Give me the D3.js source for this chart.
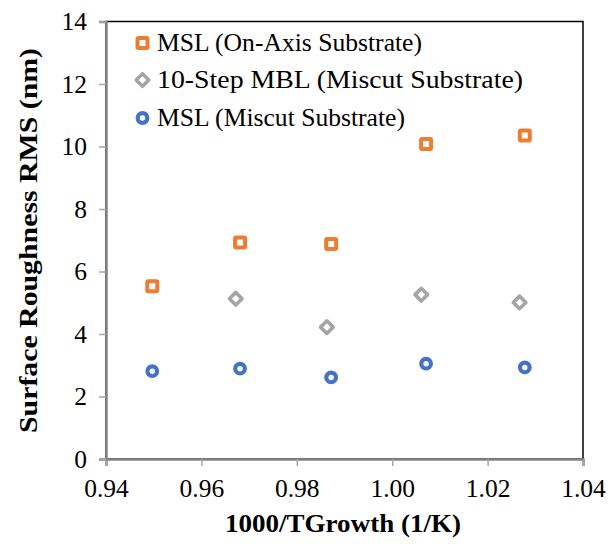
<!DOCTYPE html>
<html><head><meta charset="utf-8">
<script src="https://cdn.jsdelivr.net/npm/d3@7"></script>
<style>body{margin:0;background:#fff}svg{display:block}text{font-family:"Liberation Serif","Times New Roman",serif}</style>
</head><body>
<svg id="c" width="608" height="545"></svg>
<script>
const seriesNames = ["MSL (On-Axis Substrate)", "10-Step MBL (Miscut Substrate)", "MSL (Miscut Substrate)"];
const onAxisX = [0.9497, 0.9681, 0.9872, 1.0071, 1.0278];
const onAxisY = [5.53, 6.93, 6.88, 10.08, 10.35];
const mblX = [0.9672, 0.9863, 1.0061, 1.0267];
const mblY = [5.13, 4.22, 5.26, 5.01];
const miscutX = [0.9497, 0.9681, 0.9872, 1.0071, 1.0278];
const miscutY = [2.81, 2.89, 2.61, 3.05, 2.93];
const xTicks = [0.94, 0.96, 0.98, 1.00, 1.02, 1.04];
const yTicks = [0, 2, 4, 6, 8, 10, 12, 14];
const colors = ["#ED7D31", "#A5A5A5", "#4472C4"];

const svg = d3.select("#c");
const L = 106, R = 583, T = 21.5, B = 459;
const x = d3.scaleLinear().domain([0.94, 1.04]).range([L, R]);
const y = d3.scaleLinear().domain([0, 14]).range([B, T]);
const serif = '"Liberation Serif","Times New Roman",serif';

// plot frame
svg.append("rect").attr("x", L).attr("y", T).attr("width", R - L).attr("height", B - T)
  .attr("fill", "none").attr("stroke", "#000").attr("stroke-width", 1.5);

const xAxis = svg.append("g").attr("transform", `translate(0,${B})`)
  .call(d3.axisBottom(x).tickValues(xTicks).tickFormat(d3.format(".2f")).tickSize(7).tickPadding(13));
const yAxis = svg.append("g").attr("transform", `translate(${L},0)`)
  .call(d3.axisLeft(y).tickValues(yTicks).tickSize(7).tickPadding(12));
[xAxis, yAxis].forEach(g => {
  g.attr("font-family", null).attr("font-size", null);
  g.select(".domain").attr("stroke", "#858585").attr("stroke-width", 2.5);
  g.selectAll(".tick line").attr("stroke", "#A6A6A6").attr("stroke-width", 1.5);
  g.selectAll("text").style("font-family", serif).style("font-size", "25.5px").attr("fill", "#000");
});

// markers
function drawMarker(g, kind, cx, cy, color) {
  if (kind === 0) {
    g.append("rect").attr("x", cx - 5).attr("y", cy - 5).attr("width", 10).attr("height", 10)
      .attr("fill", "#fff").attr("stroke", color).attr("stroke-width", 4).attr("rx", 1);
  } else if (kind === 1) {
    const h = 6.3;
    g.append("path").attr("d", `M${cx},${cy - h}L${cx + h},${cy}L${cx},${cy + h}L${cx - h},${cy}Z`)
      .attr("fill", "#fff").attr("stroke", color).attr("stroke-width", 3.6).attr("stroke-linejoin", "round");
  } else {
    g.append("circle").attr("cx", cx).attr("cy", cy).attr("r", 4.8)
      .attr("fill", "#fff").attr("stroke", color).attr("stroke-width", 4.2);
  }
}
const data = [[onAxisX, onAxisY], [mblX, mblY], [miscutX, miscutY]];
const mg = svg.append("g");
data.forEach(([xs, ys], k) => {
  xs.forEach((v, i) => drawMarker(mg, k, x(v), y(ys[i]), colors[k]));
});

// legend
const lg = svg.append("g");
const legY = [43, 80, 118];
const legLen = [265, 366, 248];
seriesNames.forEach((n, k) => {
  drawMarker(lg, k, 142.5, legY[k], colors[k]);
  lg.append("text").attr("x", 157).attr("y", legY[k] + 8).style("font-family", serif).style("font-size", "25px")
    .attr("textLength", legLen[k]).attr("lengthAdjust", "spacingAndGlyphs").text(n);
});

// axis titles
svg.append("text").attr("x", 343).attr("y", 532).attr("text-anchor", "middle")
  .style("font-family", serif).style("font-size", "26px").attr("font-weight", "bold")
  .attr("textLength", 236).attr("lengthAdjust", "spacingAndGlyphs").text("1000/TGrowth (1/K)");
svg.append("text").attr("transform", `translate(37,240.5) rotate(-90)`).attr("text-anchor", "middle")
  .style("font-family", serif).style("font-size", "26px").attr("font-weight", "bold")
  .attr("textLength", 385).attr("lengthAdjust", "spacingAndGlyphs").text("Surface Roughness RMS (nm)");
</script>
</body></html>
